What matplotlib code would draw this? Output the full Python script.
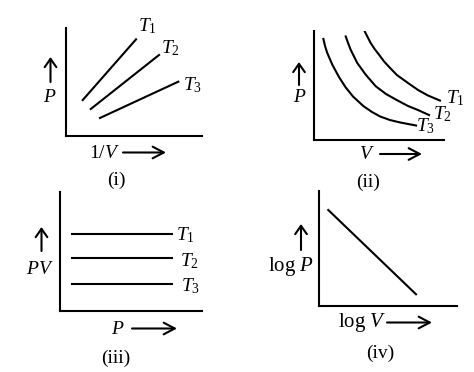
import matplotlib

matplotlib.use("Agg")
import matplotlib.pyplot as plt
from matplotlib.patches import FancyArrowPatch

# ---- data (arbitrary units, axes run 0..10) ----
# (i) P vs 1/V, straight isotherms
inv_v = {"T1": [1.23, 5.15], "T2": [1.82, 6.84], "T3": [2.50, 8.26]}
p_inv = {"T1": [3.33, 8.95], "T2": [2.50, 7.50], "T3": [1.67, 5.03]}

# (ii) P vs V, hyperbolic isotherms
v_t1 = [3.90, 4.12, 4.36, 4.69, 5.00, 5.38, 5.85, 6.38, 7.23, 8.00, 8.77, 9.69]
p_t1 = [9.97, 9.45, 8.90, 8.30, 7.83, 7.22, 6.61, 5.96, 5.23, 4.59, 4.08, 3.62]
v_t2 = [2.44, 2.62, 2.82, 3.33, 3.98, 4.75, 5.54, 6.36, 7.23, 8.00, 8.85]
p_t2 = [9.50, 8.90, 8.28, 7.06, 5.99, 4.93, 4.22, 3.67, 3.12, 2.75, 2.29]
v_t3 = [0.72, 0.85, 1.02, 1.41, 1.92, 2.44, 3.00, 3.79, 4.46, 5.08, 5.85, 6.62, 7.23, 7.85]
p_t3 = [9.27, 8.62, 7.98, 6.91, 5.78, 4.82, 3.99, 3.12, 2.57, 2.16, 1.83, 1.61, 1.47, 1.33]

# (iii) PV vs P, constant for each temperature
p_range = [0.85, 7.89]
pv_level = {"T1": 6.50, "T2": 4.45, "T3": 2.29}

# (iv) log P vs log V
log_v = [0.67, 7.03]
log_p = [8.35, 1.02]

W, H = 474, 372
LW = 1.5
FS = 14

plt.rcParams["font.family"] = ["Liberation Serif", "DejaVu Serif"]
plt.rcParams["mathtext.fontset"] = "custom"
plt.rcParams["mathtext.rm"] = "Liberation Serif"
plt.rcParams["mathtext.it"] = "Liberation Serif:italic"

fig = plt.figure(figsize=(W / 100, H / 100), dpi=100)


def px(x, y):
    return (x / W, 1 - y / H)


def panel(left, top, right, bottom):
    ax = fig.add_axes([left / W, 1 - bottom / H, (right - left) / W, (bottom - top) / H])
    for side in ("top", "right"):
        ax.spines[side].set_visible(False)
    for side in ("left", "bottom"):
        ax.spines[side].set_linewidth(LW)
        ax.spines[side].set_capstyle("projecting")
    ax.set_xticks([])
    ax.set_yticks([])
    ax.set_xlim(0, 10)
    ax.set_ylim(0, 10)
    ax.patch.set_alpha(0)
    return ax


def arrow(x0, y0, x1, y1, hl=0.8):
    fig.add_artist(FancyArrowPatch(
        px(x0, y0), px(x1, y1), transform=fig.transFigure,
        arrowstyle=f"->,head_length={hl},head_width=0.42",
        mutation_scale=10, lw=LW, color="black", shrinkA=0, shrinkB=0))


def label(x, y, s, ha="center", va="center", size=FS):
    fig.text(*px(x, y), s, ha=ha, va=va, fontsize=size)


# (i)
ax1 = panel(66, 28, 202, 136)
for k in inv_v:
    ax1.plot(inv_v[k], p_inv[k], color="black", lw=LW)
label(138, 31, "$T_1$", ha="left", va="baseline")
label(161, 53, "$T_2$", ha="left", va="baseline")
label(183, 90, "$T_3$", ha="left", va="baseline")
arrow(50.5, 82, 50.5, 57, hl=0.6)
label(50, 97, "$P$")
label(104, 153, "1/$V$")
arrow(123, 152.5, 166, 152.5)
label(116, 180, "(i)")

# (ii)
ax2 = panel(314, 31, 444, 140)
for v, p in ((v_t1, p_t1), (v_t2, p_t2), (v_t3, p_t3)):
    ax2.plot(v, p, color="black", lw=LW, solid_joinstyle="round")
label(446, 103, "$T_1$", ha="left", va="baseline")
label(433, 119, "$T_2$", ha="left", va="baseline")
label(416, 131, "$T_3$", ha="left", va="baseline")
arrow(299, 85, 299, 62, hl=0.6)
label(300, 98, "$P$")
label(367, 154, "$V$")
arrow(380, 154, 422, 154)
label(368, 182, "(ii)")

# (iii)
ax3 = panel(60, 192, 202, 311)
for k, lvl in pv_level.items():
    ax3.plot(p_range, [lvl, lvl], color="black", lw=LW)
label(176, 240, "$T_1$", ha="left", va="baseline")
label(180, 266, "$T_2$", ha="left", va="baseline")
label(181, 291, "$T_3$", ha="left", va="baseline")
arrow(41.5, 251, 41.5, 227, hl=0.6)
label(40, 270, "$PV$")
label(118, 329, "$P$")
arrow(132, 328.5, 177, 328.5)
label(116, 358, "(iii)")

# (iv)
ax4 = panel(319, 191, 457, 306)
ax4.plot(log_v, log_p, color="black", lw=LW)
arrow(301, 250, 301, 224, hl=0.6)
label(291, 266, "log $P$", size=15)
label(362, 323, "log $V$", size=15)
arrow(387, 322.5, 432, 322.5)
label(380, 353, "(iv)")

fig.savefig("out.png", dpi=100)
